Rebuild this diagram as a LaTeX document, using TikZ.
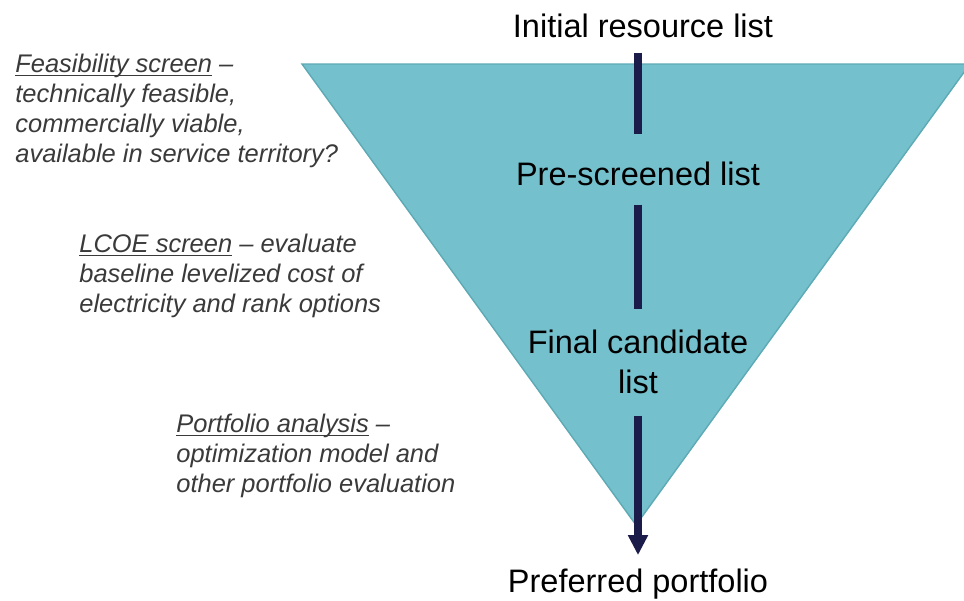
\documentclass[tikz,border=0pt]{standalone}
\usepackage{fontspec}
\setmainfont{Liberation Sans}
\usepackage{xcolor}
\usetikzlibrary{arrows.meta}

\definecolor{funnelfill}{HTML}{74C0CC}
\definecolor{funneledge}{HTML}{5DA9B4}
\definecolor{flownavy}{HTML}{1C1C4A}
\definecolor{notegray}{HTML}{3A3A3A}

\newcommand{\ulhead}[1]{\setbox0\hbox{#1}\rlap{\rule[-2.2pt]{\wd0}{0.9pt}}\box0\relax}

\begin{document}
\begin{tikzpicture}[x=0.02cm, y=-0.02cm,
    stage/.style={font=\fontsize{18.5}{22.5}\selectfont, align=center, inner sep=0pt},
    note/.style={font=\fontsize{14.5}{17}\selectfont\itshape, text=notegray, align=left, inner sep=0pt, anchor=base west},
    flow/.style={line width=4pt, draw=flownavy}]
    \useasboundingbox (0,0) rectangle (964,600);

    % funnel
    \draw[fill=funnelfill, draw=funneledge, line width=0.8pt]
    (302,64) -- (970,64) -- (636,525) -- cycle;

    % stages (base = last line)
    \node[stage, anchor=base] (init) at (643,37) {Initial resource list};
    \node[stage, anchor=base] (pre) at (638,185) {Pre-screened list};
    \node[stage, anchor=base] (final) at (638,393) {Final candidate\\list};
    \node[stage, anchor=base] (pref) at (638,592) {Preferred portfolio};

    \draw[flow, shorten <=0.3cm, shorten >=0.54cm] (init.south -| pre.south) -- (pre.north);
    \draw[flow, shorten <=0.38cm, shorten >=0.42cm] (pre.south) -- (final.north);
    \draw[flow, -{Triangle[width=0.38cm, length=0.4cm]}, shorten <=0.44cm, shorten >=0.26cm]
    (final.south) -- (pref.north);

    % screening notes
    \node[note] (feas) at (15,162) {\ulhead{Feasibility screen} --\\technically feasible,\\commercially viable,\\available in service territory?};
    \node[note] (lcoe) at (79,312) {\ulhead{LCOE screen} -- evaluate\\baseline levelized cost of\\electricity and rank options};
    \node[note] (port) at (176,492) {\ulhead{Portfolio analysis} --\\optimization model and\\other portfolio evaluation};

\end{tikzpicture}
\end{document}
